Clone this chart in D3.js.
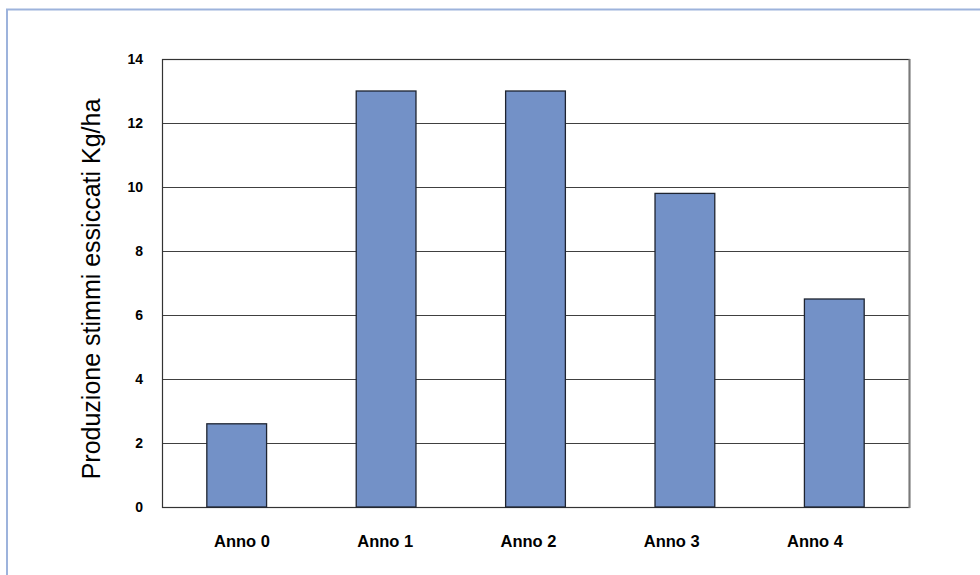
<!DOCTYPE html>
<html>
<head>
<meta charset="utf-8">
<script src="https://cdn.jsdelivr.net/npm/d3@7"></script>
<style>
  html, body { margin: 0; padding: 0; background: #fff; }
  svg { display: block; }
</style>
</head>
<body>
<svg id="chart" width="980" height="575"></svg>
<script>
// Stigma yield per year
const categories = ["Anno 0", "Anno 1", "Anno 2", "Anno 3", "Anno 4"];
const values = [2.6, 13, 13, 9.8, 6.5];
const yTicks = [0, 2, 4, 6, 8, 10, 12, 14];
const yTitle = "Produzione stimmi essiccati Kg/ha";

const svg = d3.select("#chart");
const W = 980, H = 575;
const plot = { left: 162, top: 59, right: 909, bottom: 507 };

// outer frame
svg.append("rect")
  .attr("x", 7).attr("y", 9.5)
  .attr("width", W + 20).attr("height", H + 20)
  .attr("fill", "#fff")
  .attr("stroke", "#9db3dc").attr("stroke-width", 2);

const x = d3.scaleBand()
  .domain(categories)
  .range([plot.left, plot.right])
  .paddingInner(0.6).paddingOuter(0.3);

// category labels sit on their own, slightly narrower spacing
const xLabel = d3.scalePoint()
  .domain(categories)
  .range([241.5, 814.5]);

const y = d3.scaleLinear().domain([0, 14]).range([plot.bottom, plot.top]);

// gridlines
svg.append("g")
  .selectAll("line")
  .data(yTicks.filter(t => t > 0 && t < 14))
  .join("line")
  .attr("x1", plot.left).attr("x2", plot.right)
  .attr("y1", d => Math.round(y(d)) + 0.5).attr("y2", d => Math.round(y(d)) + 0.5)
  .attr("stroke", "#404040").attr("stroke-width", 1);

// plot-area border
svg.append("rect")
  .attr("x", plot.left + 0.5).attr("y", plot.top + 0.5)
  .attr("width", plot.right - plot.left).attr("height", plot.bottom - plot.top)
  .attr("fill", "none").attr("stroke", "#333").attr("stroke-width", 1.2);
svg.append("line")
  .attr("x1", plot.right + 0.5).attr("x2", plot.right + 0.5)
  .attr("y1", plot.top).attr("y2", plot.bottom + 1)
  .attr("stroke", "#7a7a7a").attr("stroke-width", 2);

// bars
svg.append("g")
  .selectAll("rect")
  .data(values)
  .join("rect")
  .attr("x", (d, i) => x(categories[i]))
  .attr("y", d => y(d))
  .attr("width", x.bandwidth())
  .attr("height", d => y(0) - y(d))
  .attr("fill", "#7391c7")
  .attr("stroke", "#1e2430").attr("stroke-width", 1.3);

// y axis tick labels
const yAxis = d3.axisLeft(y).tickValues(yTicks).tickSize(0).tickPadding(19);
const gy = svg.append("g").attr("transform", `translate(${plot.left},0)`).call(yAxis);
gy.select(".domain").remove();
gy.selectAll("text")
  .attr("font-family", "Liberation Sans, Arial, sans-serif")
  .attr("font-size", 14).attr("font-weight", "bold").attr("fill", "#000");

// x axis category labels
const xAxis = d3.axisBottom(xLabel).tickSize(0).tickPadding(28);
const gx = svg.append("g").attr("transform", `translate(0,${plot.bottom})`).call(xAxis);
gx.select(".domain").remove();
gx.selectAll("text")
  .attr("font-family", "Liberation Sans, Arial, sans-serif")
  .attr("font-size", 16.5).attr("font-weight", "bold").attr("fill", "#000");

// y axis title
svg.append("text")
  .attr("transform", `translate(100,289) rotate(-90)`)
  .attr("text-anchor", "middle")
  .attr("font-family", "Liberation Sans, Arial, sans-serif")
  .attr("font-size", 25).attr("fill", "#000")
  .text(yTitle);
</script>
</body>
</html>
